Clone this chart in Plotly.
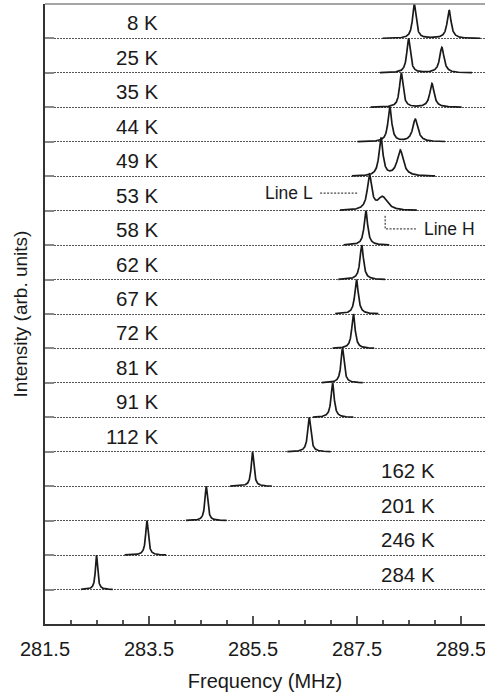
import numpy as np
import plotly.graph_objects as go

# ---------------- data ----------------
temps_K = [8, 25, 35, 44, 49, 53, 58, 62, 67, 72, 81, 91, 112, 162, 201, 246, 284]
main_center = [288.60, 288.49, 288.35, 288.13, 287.96, 287.74, 287.67, 287.59, 287.49,
               287.43, 287.22, 287.03, 286.58, 285.49, 284.60, 283.46, 282.49]
main_height = [1.0, 1.0, 1.0, 1.0, 1.1, 1.0, 1.0, 1.0, 1.0,
               1.0, 1.0, 1.0, 1.0, 1.0, 1.0, 1.0, 1.0]
main_fwhm = [0.08, 0.08, 0.08, 0.085, 0.09, 0.10, 0.08, 0.08, 0.08,
             0.075, 0.07, 0.07, 0.07, 0.06, 0.06, 0.06, 0.05]
second_center = [289.27, 289.13, 288.94, 288.62, 288.33, 287.99, None, None, None,
                 None, None, None, None, None, None, None, None]
second_height = [0.82, 0.74, 0.69, 0.65, 0.75, 0.38, 0, 0, 0,
                 0, 0, 0, 0, 0, 0, 0, 0]
second_fwhm = [0.09, 0.10, 0.10, 0.12, 0.14, 0.22, 0, 0, 0,
               0, 0, 0, 0, 0, 0, 0, 0]
span_lo = [287.99, 287.94, 287.76, 287.51, 287.40, 287.17, 287.24, 287.14, 287.08,
           287.03, 286.82, 286.65, 286.16, 285.06, 284.21, 283.03, 282.19]
span_hi = [289.87, 289.71, 289.51, 289.19, 289.00, 288.65, 288.12, 288.04, 287.91,
           287.83, 287.61, 287.43, 286.99, 285.86, 284.99, 283.83, 282.80]
x_ticks = [281.5, 283.5, 285.5, 287.5, 289.5]

# ---------------- layout constants ----------------
n = len(temps_K)
offsets = [n - 1 - i for i in range(n)]          # 8 K on top, 284 K at bottom
FONT = "Liberation Sans, Arial, sans-serif"
INK = "#1a1a1a"


def lorentz(x, c, h, w):
    g = w / 2.0
    return h * g * g / ((x - c) ** 2 + g * g)


fig = go.Figure()
for i in range(n):
    x = np.linspace(span_lo[i], span_hi[i], 600)
    y = lorentz(x, main_center[i], main_height[i], main_fwhm[i])
    if second_center[i] is not None:
        y = y + lorentz(x, second_center[i], second_height[i], second_fwhm[i])
    fig.add_trace(go.Scatter(x=x, y=y + offsets[i], mode="lines",
                             line=dict(color=INK, width=1.7),
                             hoverinfo="skip", showlegend=False))

# temperature labels
for i in range(n):
    if temps_K[i] <= 112:
        lx = 283.71
    else:
        lx = 289.03
    fig.add_annotation(x=lx, y=offsets[i] + 0.45, text=f"{temps_K[i]} K",
                       showarrow=False, xanchor="right", yanchor="middle",
                       font=dict(family=FONT, size=20.5, color=INK))

# Line L / Line H labels with dashed leaders
fig.add_trace(go.Scatter(x=[286.79, 287.51], y=[11.51, 11.51], mode="lines",
                         line=dict(color=INK, width=1, dash="2px,1.5px"),
                         hoverinfo="skip", showlegend=False))
fig.add_annotation(x=286.69, y=11.51, text="Line L", showarrow=False,
                   xanchor="right", yanchor="middle",
                   font=dict(family=FONT, size=17.5, color=INK))
fig.add_trace(go.Scatter(x=[288.04, 288.04, 288.63], y=[10.85, 10.47, 10.47], mode="lines",
                         line=dict(color=INK, width=1, dash="2px,1.5px"),
                         hoverinfo="skip", showlegend=False))
fig.add_annotation(x=288.75, y=10.47, text="Line H", showarrow=False,
                   xanchor="left", yanchor="middle",
                   font=dict(family=FONT, size=17.5, color=INK))

# top border
fig.add_shape(type="line", xref="paper", yref="paper", x0=0, x1=1, y0=1, y1=1,
              line=dict(color="#888888", width=1.5))

fig.update_layout(
    width=485, height=696,
    margin=dict(l=45, r=0, t=4, b=72, autoexpand=False),
    paper_bgcolor="white", plot_bgcolor="white",
    font=dict(family=FONT, size=20, color=INK),
    showlegend=False,
)
fig.update_xaxes(
    range=[281.5, 289.96], tickvals=x_ticks, ticktext=[f"{v:.1f}" for v in x_ticks],
    ticks="inside", ticklen=8, tickwidth=1.5, tickcolor="#555555",
    minor=dict(dtick=0.5, tick0=281.5, ticks="inside", ticklen=4,
               tickwidth=1.5, tickcolor="#555555", showgrid=False),
    showline=True, linecolor="#333333", linewidth=2,
    showgrid=False, zeroline=False, automargin=False,
    ticklabeloverflow="allow", ticklabelstandoff=6,
    tickfont=dict(family=FONT, size=20, color=INK),
    title=dict(text="Frequency (MHz)", font=dict(family=FONT, size=20, color=INK),
               standoff=15),
)
fig.update_yaxes(
    range=[-1, 17], tickvals=offsets, showticklabels=False,
    ticks="inside", ticklen=9, tickwidth=1.5, tickcolor="#888888",
    showline=True, linecolor="#333333", linewidth=2,
    showgrid=True, gridcolor="#555555", gridwidth=1, griddash="1.5px,1.5px",
    zeroline=False, automargin=False,
    title=dict(text="Intensity (arb. units)", font=dict(family=FONT, size=19, color=INK),
               standoff=10),
)

fig.write_html(
    "out.html",
    config={"displayModeBar": False},
    post_script="document.body.style.margin='0';document.body.style.overflow='hidden';",
)
